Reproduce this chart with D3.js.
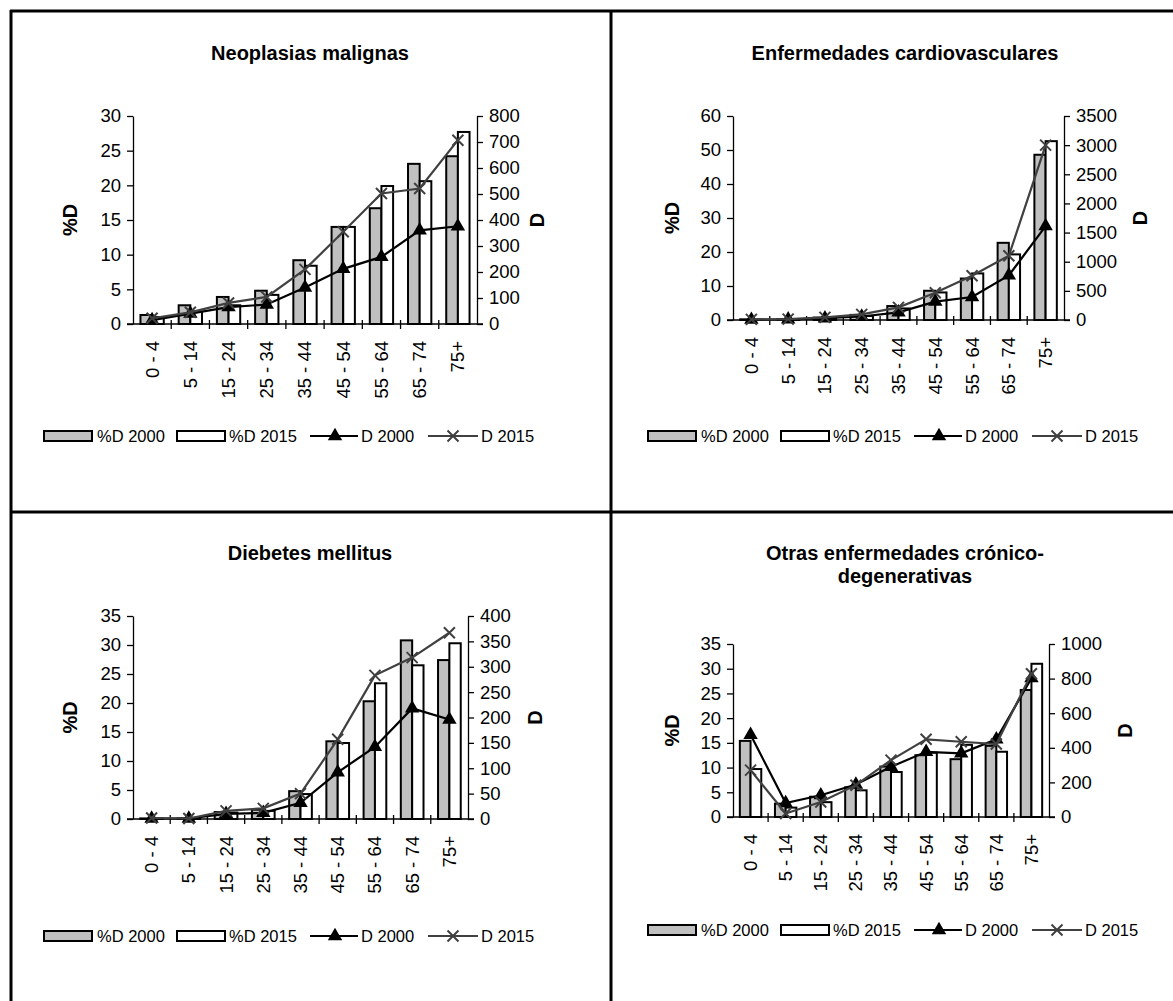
<!DOCTYPE html>
<html>
<head>
<meta charset="utf-8">
<script src="https://cdn.jsdelivr.net/npm/d3@7"></script>
<style>
  body { margin: 0; background: #fff; }
  svg { font-family: "Liberation Sans", Arial, sans-serif; }
</style>
</head>
<body>
<svg id="chart" width="1173" height="1001"></svg>
<script>
// age groups shared by all four charts
const ageGroups = ["0 - 4", "5 - 14", "15 - 24", "25 - 34", "35 - 44", "45 - 54", "55 - 64", "65 - 74", "75+"];

// Neoplasias malignas
const neoPct2000 = [1.3, 2.7, 3.9, 4.8, 9.2, 14.0, 16.7, 23.1, 24.2];
const neoPct2015 = [1.0, 1.8, 2.7, 4.2, 8.4, 14.0, 19.9, 20.6, 27.7];
const neoD2000 = [15, 40, 65, 75, 140, 212, 258, 360, 376];
const neoD2015 = [22, 45, 81, 104, 210, 355, 502, 521, 707];

// Enfermedades cardiovasculares
const cardioPct2000 = [0.2, 0.2, 0.7, 1.5, 4.1, 8.6, 12.2, 22.7, 48.6];
const cardioPct2015 = [0.1, 0.1, 0.5, 1.2, 3.4, 8.1, 13.7, 19.3, 52.6];
const cardioD2000 = [5, 10, 30, 60, 130, 314, 395, 765, 1610];
const cardioD2015 = [10, 15, 45, 97, 217, 468, 760, 1102, 3000];

// Diabetes mellitus
const diabPct2000 = [0.1, 0.1, 1.2, 1.6, 4.8, 13.4, 20.3, 30.8, 27.4];
const diabPct2015 = [0.1, 0.1, 1.1, 1.4, 4.3, 13.1, 23.4, 26.5, 30.3];
const diabD2000 = [1, 1, 10, 12, 32, 92, 142, 218, 196];
const diabD2015 = [2, 1, 16, 21, 50, 157, 283, 318, 367];

// Otras enfermedades crónico-degenerativas
const otrasPct2000 = [15.4, 2.7, 4.1, 6.0, 10.2, 12.5, 11.7, 14.4, 25.7];
const otrasPct2015 = [9.7, 1.9, 3.0, 5.4, 9.1, 13.0, 14.6, 13.2, 31.0];
const otrasD2000 = [475, 81, 126, 188, 290, 377, 368, 449, 803];
const otrasD2015 = [271, 20, 87, 184, 329, 449, 435, 422, 828];

// axis ticks
const neoPctTicks = [0, 5, 10, 15, 20, 25, 30];
const neoDTicks = [0, 100, 200, 300, 400, 500, 600, 700, 800];
const cardioPctTicks = [0, 10, 20, 30, 40, 50, 60];
const cardioDTicks = [0, 500, 1000, 1500, 2000, 2500, 3000, 3500];
const diabPctTicks = [0, 5, 10, 15, 20, 25, 30, 35];
const diabDTicks = [0, 50, 100, 150, 200, 250, 300, 350, 400];
const otrasPctTicks = [0, 5, 10, 15, 20, 25, 30, 35];
const otrasDTicks = [0, 200, 400, 600, 800, 1000];

const legendLabels = ["%D 2000", "%D 2015", "D 2000", "D 2015"];

const grayFill = "#c0c0c0";
const line2015 = "#404040";
const legendFont = 16.5;
const tickFont = 18.5;
const titleFont = 20;
const axisTitleFont = 20;

const svg = d3.select("#chart");

// table frame
const frame = svg.append("g")
    .attr("stroke", "#000")
    .attr("stroke-width", 3);
frame.append("line").attr("x1", 10).attr("x2", 1173).attr("y1", 11).attr("y2", 11);
frame.append("line").attr("x1", 11).attr("x2", 11).attr("y1", 10).attr("y2", 1001);
frame.append("line").attr("x1", 611).attr("x2", 611).attr("y1", 10).attr("y2", 1001);
frame.append("line").attr("x1", 11).attr("x2", 1173).attr("y1", 512).attr("y2", 512);

const panels = [
    {
        title: ["Neoplasias malignas"], titleX: 310, titleY: 53,
        pct2000: neoPct2000, pct2015: neoPct2015, d2000: neoD2000, d2015: neoD2015,
        pctTicks: neoPctTicks, dTicks: neoDTicks,
        x0: 133, x1: 477, y0: 116, y1: 324,
        leftLabelX: 70, rightLabelX: 537,
        legendX: 44, legendY: 436
    },
    {
        title: ["Enfermedades cardiovasculares"], titleX: 905, titleY: 53,
        pct2000: cardioPct2000, pct2015: cardioPct2015, d2000: cardioD2000, d2015: cardioD2015,
        pctTicks: cardioPctTicks, dTicks: cardioDTicks,
        x0: 733, x1: 1064, y0: 116, y1: 320,
        leftLabelX: 672, rightLabelX: 1140,
        legendX: 648, legendY: 436
    },
    {
        title: ["Diebetes mellitus"], titleX: 310, titleY: 553,
        pct2000: diabPct2000, pct2015: diabPct2015, d2000: diabD2000, d2015: diabD2015,
        pctTicks: diabPctTicks, dTicks: diabDTicks,
        x0: 133, x1: 468, y0: 616, y1: 819,
        leftLabelX: 70, rightLabelX: 535,
        legendX: 44, legendY: 936
    },
    {
        title: ["Otras enfermedades crónico-", "degenerativas"], titleX: 905, titleY: 553,
        pct2000: otrasPct2000, pct2015: otrasPct2015, d2000: otrasD2000, d2015: otrasD2015,
        pctTicks: otrasPctTicks, dTicks: otrasDTicks,
        x0: 733, x1: 1049, y0: 644, y1: 817,
        leftLabelX: 672, rightLabelX: 1125,
        legendX: 648, legendY: 930
    }
];

const drawX = (g, size) => {
    g.append("path")
        .attr("d", `M${-size},${-size}L${size},${size}M${-size},${size}L${size},${-size}`)
        .attr("stroke", line2015)
        .attr("stroke-width", 2)
        .attr("fill", "none");
};

const drawPanel = (p) => {
    const g = svg.append("g");

    // title
    g.append("text")
        .attr("x", p.titleX)
        .attr("y", p.titleY)
        .attr("text-anchor", "middle")
        .attr("font-weight", "bold")
        .attr("font-size", titleFont)
        .selectAll("tspan")
        .data(p.title)
        .join("tspan")
        .attr("x", p.titleX)
        .attr("dy", (d, i) => i === 0 ? "0.35em" : 23)
        .text(d => d);

    const x = d3.scaleBand().domain(ageGroups).range([p.x0, p.x1]);
    const yL = d3.scaleLinear().domain([0, d3.max(p.pctTicks)]).range([p.y1, p.y0]);
    const yR = d3.scaleLinear().domain([0, d3.max(p.dTicks)]).range([p.y1, p.y0]);
    const barW = x.bandwidth() * 0.305;

    // bars
    const series = [
        { values: p.pct2000, fill: grayFill, offset: -barW },
        { values: p.pct2015, fill: "#fff", offset: 0 }
    ];
    series.forEach(s => {
        g.append("g")
            .selectAll("rect")
            .data(s.values)
            .join("rect")
            .attr("x", (d, i) => x(ageGroups[i]) + x.bandwidth() / 2 + s.offset)
            .attr("y", d => yL(d))
            .attr("width", barW)
            .attr("height", d => yL(0) - yL(d))
            .attr("fill", s.fill)
            .attr("stroke", "#000")
            .attr("stroke-width", 2);
    });

    // left axis
    const leftAxis = g.append("g")
        .attr("transform", `translate(${p.x0},0)`)
        .call(d3.axisLeft(yL).tickValues(p.pctTicks).tickFormat(d3.format("d"))
            .tickSize(6).tickPadding(6).tickSizeOuter(0));
    // right axis
    const rightAxis = g.append("g")
        .attr("transform", `translate(${p.x1},0)`)
        .call(d3.axisRight(yR).tickValues(p.dTicks).tickFormat(d3.format("d"))
            .tickSize(6).tickPadding(6).tickSizeOuter(0));
    [leftAxis, rightAxis].forEach(a => {
        a.attr("font-size", tickFont).attr("font-family", null);
        a.selectAll("text").attr("fill", "#000");
        a.selectAll("line, path").attr("stroke", "#000").attr("stroke-width", 1.3);
    });

    // bottom axis line with cross ticks at category boundaries
    const bottom = g.append("g");
    bottom.append("line")
        .attr("x1", p.x0 - 6).attr("x2", p.x1 + 6)
        .attr("y1", p.y1).attr("y2", p.y1)
        .attr("stroke", "#000").attr("stroke-width", 1.3);
    bottom.selectAll(".xtick")
        .data(ageGroups.slice(1))
        .join("line")
        .attr("class", "xtick")
        .attr("x1", d => x(d)).attr("x2", d => x(d))
        .attr("y1", p.y1 - 4).attr("y2", p.y1 + 5)
        .attr("stroke", "#000").attr("stroke-width", 1.3);
    bottom.selectAll(".xlabel")
        .data(ageGroups)
        .join("text")
        .attr("class", "xlabel")
        .attr("transform", d => `translate(${x(d) + x.bandwidth() / 2},${p.y1 + 17}) rotate(-90)`)
        .attr("text-anchor", "end")
        .attr("dy", "0.35em")
        .attr("font-size", tickFont)
        .text(d => d);

    // axis titles
    const midY = (p.y0 + p.y1) / 2;
    g.append("text")
        .attr("transform", `translate(${p.leftLabelX},${midY}) rotate(-90)`)
        .attr("text-anchor", "middle")
        .attr("dy", "0.35em")
        .attr("font-weight", "bold")
        .attr("font-size", axisTitleFont)
        .text("%D");
    g.append("text")
        .attr("transform", `translate(${p.rightLabelX},${midY}) rotate(-90)`)
        .attr("text-anchor", "middle")
        .attr("dy", "0.35em")
        .attr("font-weight", "bold")
        .attr("font-size", axisTitleFont)
        .text("D");

    // lines
    const cx = (d, i) => x(ageGroups[i]) + x.bandwidth() / 2;
    const lineGen = d3.line().x(cx).y(d => yR(d));

    g.append("path")
        .datum(p.d2000)
        .attr("d", lineGen)
        .attr("fill", "none")
        .attr("stroke", "#000")
        .attr("stroke-width", 2.2);
    g.append("g")
        .selectAll("path")
        .data(p.d2000)
        .join("path")
        .attr("transform", (d, i) => `translate(${cx(d, i)},${yR(d)})`)
        .attr("d", d3.symbol(d3.symbolTriangle, 90))
        .attr("fill", "#000");

    g.append("path")
        .datum(p.d2015)
        .attr("d", lineGen)
        .attr("fill", "none")
        .attr("stroke", line2015)
        .attr("stroke-width", 2.2);
    g.append("g")
        .selectAll("g")
        .data(p.d2015)
        .join("g")
        .attr("transform", (d, i) => `translate(${cx(d, i)},${yR(d)})`)
        .each(function () { drawX(d3.select(this), 5.5); });

    // legend
    const lg = g.append("g").attr("transform", `translate(${p.legendX},${p.legendY})`);
    const offsets = [0, 133, 266, 384];
    const textOffsets = [53, 185, 317, 437];
    lg.append("rect").attr("x", offsets[0]).attr("y", -5).attr("width", 48).attr("height", 10)
        .attr("fill", grayFill).attr("stroke", "#000").attr("stroke-width", 2);
    lg.append("rect").attr("x", offsets[1]).attr("y", -5).attr("width", 48).attr("height", 10)
        .attr("fill", "#fff").attr("stroke", "#000").attr("stroke-width", 2);
    lg.append("line").attr("x1", offsets[2]).attr("x2", offsets[2] + 48).attr("y1", 0).attr("y2", 0)
        .attr("stroke", "#000").attr("stroke-width", 2);
    lg.append("path")
        .attr("transform", `translate(${offsets[2] + 25},0)`)
        .attr("d", d3.symbol(d3.symbolTriangle, 90))
        .attr("fill", "#000");
    lg.append("line").attr("x1", offsets[3]).attr("x2", offsets[3] + 50).attr("y1", 0).attr("y2", 0)
        .attr("stroke", line2015).attr("stroke-width", 2);
    drawX(lg.append("g").attr("transform", `translate(${offsets[3] + 25},0)`), 5.5);

    lg.selectAll(".ltext")
        .data(legendLabels)
        .join("text")
        .attr("class", "ltext")
        .attr("x", (d, i) => textOffsets[i])
        .attr("dy", "0.35em")
        .attr("font-size", legendFont)
        .text(d => d);
};

panels.forEach(drawPanel);
</script>
</body>
</html>
